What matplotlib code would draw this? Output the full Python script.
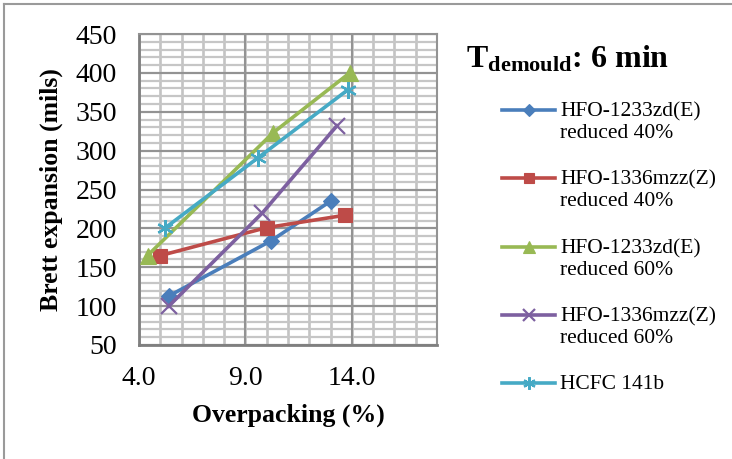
import matplotlib
matplotlib.use("Agg")
import matplotlib.pyplot as plt
from matplotlib.lines import Line2D

plt.rcParams['font.family'] = ['Liberation Serif', 'DejaVu Serif']
plt.rcParams['mathtext.fontset'] = 'custom'
plt.rcParams['mathtext.rm'] = 'Liberation Serif'
plt.rcParams['mathtext.bf'] = 'Liberation Serif:bold'

series_names = ["HFO-1233zd(E)\nreduced 40%", "HFO-1336mzz(Z)\nreduced 40%",
                "HFO-1233zd(E)\nreduced 60%", "HFO-1336mzz(Z)\nreduced 60%",
                "HCFC 141b"]
x_blue = [5.4, 10.2, 13.0]
y_blue = [113, 184, 235]
x_red = [5.0, 10.0, 13.7]
y_red = [165, 201, 217]
x_green = [4.4, 10.3, 13.9]
y_green = [165, 323, 400]
x_purple = [5.4, 9.8, 13.3]
y_purple = [100, 220, 332]
x_cyan = [5.2, 9.6, 13.8]
y_cyan = [200, 291, 378]
x_ticks = [4.0, 9.0, 14.0]
y_ticks = [50, 100, 150, 200, 250, 300, 350, 400, 450]

colors = ['#4A7EBB', '#BE4B48', '#98B954', '#7D60A0', '#46AAC5']
markers = ['D', 's', '^', 'x', (6, 2, 0)]
msizes = [8.5, 9.5, 11, 11, 12]
mews = [0.8, 0.8, 0.8, 1.6, 1.6]

W, H = 732, 459
fig = plt.figure(figsize=(W / 100, H / 100), dpi=100)
fig.patch.set_facecolor('white')
# outer chart border (left and top visible)
fig.add_artist(Line2D([4 / W, 4 / W], [0, 1 - 4 / H], transform=fig.transFigure, color='#9a9a9a', lw=1.5))
fig.add_artist(Line2D([4 / W, 1.0], [1 - 4 / H, 1 - 4 / H], transform=fig.transFigure, color='#9a9a9a', lw=1.5))

ax = fig.add_axes([139 / W, 1 - 345 / H, 298 / W, 311 / H])
ax.set_xlim(4, 18)
ax.set_ylim(50, 450)

# gridlines
for xv in range(4, 19):
    ax.axvline(xv, color='#c3c3c3', lw=1.9, zorder=0)
for yv in range(50, 451, 10):
    ax.axhline(yv, color='#c6c6c6', lw=1.6, zorder=0)
for xv in x_ticks:
    ax.axvline(xv, color='#939393', lw=1.5, zorder=0.5)
for yv in y_ticks:
    ax.axhline(yv, color='#939393', lw=1.5, zorder=0.5)

xs = [x_blue, x_red, x_green, x_purple, x_cyan]
ys = [y_blue, y_red, y_green, y_purple, y_cyan]
for i in range(5):
    ax.plot(xs[i], ys[i], color=colors[i], lw=2.6, marker=markers[i],
            markersize=msizes[i], markeredgewidth=mews[i],
            markeredgecolor=colors[i], markerfacecolor=colors[i],
            label=series_names[i], zorder=3, clip_on=False)

ax.set_xticks(x_ticks)
ax.set_xticklabels([f"{v:.1f}" for v in x_ticks])
ax.set_yticks(y_ticks)
ax.tick_params(axis='both', length=0, labelsize=20)
ax.tick_params(axis='x', pad=15)
ax.tick_params(axis='y', pad=16)
for s in ax.spines.values():
    s.set_color('#939393')
    s.set_linewidth(1.5)
ax.spines['left'].set_color('#7f7f7f')
ax.spines['bottom'].set_color('#7f7f7f')
ax.spines['left'].set_linewidth(2)
ax.spines['bottom'].set_linewidth(2)
ax.set_xlabel("Overpacking (%)", fontsize=18.5, fontweight='bold', labelpad=9)
ax.set_ylabel("Brett expansion (mils)", fontsize=18.5, fontweight='bold', labelpad=9)

fig.text(466 / W, 1 - 67 / H, r"$\mathbf{T_{demould}}$: 6 min", fontsize=23,
         fontweight='bold', va='baseline')

# legend (drawn manually so the handle sits on the first text line)
leg_y = [110, 178, 247, 315, 383]
for i in range(5):
    yf = 1 - leg_y[i] / H
    fig.add_artist(Line2D([502 / W, 555 / W], [yf, yf], transform=fig.transFigure,
                          color=colors[i], lw=2.6))
    fig.add_artist(Line2D([528.5 / W], [yf], transform=fig.transFigure,
                          color=colors[i], marker=markers[i],
                          markersize=msizes[i] * 0.75, markeredgewidth=mews[i],
                          markeredgecolor=colors[i], markerfacecolor=colors[i]))
    fig.text(560 / W, yf + 8 / H, series_names[i], fontsize=15.5, va='top',
             ha='left', linespacing=1.2)

fig.savefig("out.png", dpi=100, facecolor='white')
